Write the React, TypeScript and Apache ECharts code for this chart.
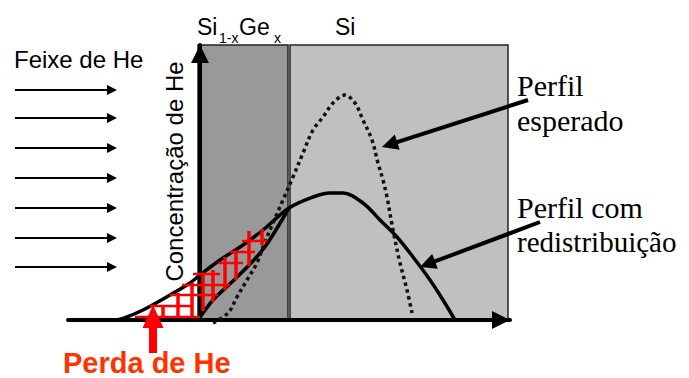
import { useEffect, useRef } from "react";
import * as echarts from "echarts";

// Axis ranges (arbitrary depth / concentration units)
const depthMin = -66;
const depthMax = 155;
const concMin = 0;
const concMax = 110;

// Layers: Si1-xGex and Si
const layerFrom = [-1, 45];
const layerTo = [44, 154];
const layerTop = [110, 110];

// "Perfil com redistribuição" (solid)
const redistDepth = [-42, -38.5, -28.5, -15, -5, 0, 10, 21.5, 31.5, 44.5, 56.5, 65, 71.5, 81.5, 90, 98.5, 106.5, 115, 121.5, 127.5];
const redistConc = [0, 0.6, 4, 10, 14.8, 18, 24, 30, 36, 44.8, 49.2, 50.8, 50.8, 46.8, 40, 33.2, 25.2, 16, 8, 0];

// Lower solid edge inside the SiGe layer
const sigeDepth = [-1, 6.5, 16.5, 26.5, 33.5, 44.5];
const sigeConc = [0, 8, 15.6, 23.6, 30.4, 44.8];

// "Perfil esperado" (dotted)
const expectedDepth = [6.5, 14, 18.5, 23.5, 28.5, 31.5, 36.5, 41.5, 46.5, 51.5, 56.5, 61.5, 66.5, 72.5, 77.5, 81.5, 86, 89, 91.5, 93.5, 96.5, 100, 103.5, 106];
const expectedConc = [-1.2, 2.8, 9.2, 16, 22.8, 29.2, 38.8, 48, 57.2, 66.8, 76, 81.2, 86.8, 90, 86.8, 80, 72, 62.8, 56, 49.2, 36, 22.8, 12, 2.8];

// Red hatching of the lost He
const hatchVDepth = [-18.5, -11, -4, 1.5, 6.5, 12.5, 18, 24.5, 31];
const hatchVLow = [1.2, 1.2, 1.2, 3.6, 7.2, 12, 16, 21.6, 30];
const hatchVHigh = [5.6, 10.8, 14.8, 18.8, 20, 25.2, 27.6, 35.6, 36.4];
const hatchHConc = [1.2, 5.6, 10, 14, 18.4, 22.8, 27.2, 31.6];
const hatchHFrom = [-32.5, -25, -15, -9, -3.5, 9, 15, 21];
const hatchHTo = [0, -4, 9, 15, 10, 21.5, 27.5, 33.5];

// He beam arrows
const beamConc = [92, 80.8, 68.8, 56.8, 44.8, 32.8, 21.2];
const beamFrom = -92.5;
const beamTo = -41.5;

// Callout arrows [fromDepth, fromConc, toDepth, toConc]
const calloutArrows = [
  [164, 88, 91, 69.2],
  [170, 39.2, 110, 21.2],
];
const lossArrow = [[-23.5, -13.2, -23.5, 6]];

const zip = (a: number[], b: number[]) => a.map((v, i) => [v, b[i]]);

function arrowRenderer(color: string, lw: number, headLen: number, headW: number) {
  return (_params: any, api: any) => {
    const p1 = api.coord([api.value(0), api.value(1)]);
    const p2 = api.coord([api.value(2), api.value(3)]);
    const dx = p2[0] - p1[0];
    const dy = p2[1] - p1[1];
    const L = Math.hypot(dx, dy) || 1;
    const ux = dx / L;
    const uy = dy / L;
    const bx = p2[0] - ux * headLen;
    const by = p2[1] - uy * headLen;
    const hw = headW / 2;
    return {
      type: "group",
      children: [
        {
          type: "line",
          shape: { x1: p1[0], y1: p1[1], x2: bx + ux * 1, y2: by + uy * 1 },
          style: { stroke: color, lineWidth: lw, lineCap: "butt" },
        },
        {
          type: "polygon",
          shape: {
            points: [
              [p2[0], p2[1]],
              [bx - uy * hw, by + ux * hw],
              [bx + uy * hw, by - ux * hw],
            ],
          },
          style: { fill: color },
        },
      ],
    };
  };
}

const SANS = "Liberation Sans";
const SERIF = "Liberation Serif";

function txt(
  text: string,
  x: number,
  y: number,
  size: number,
  family: string,
  fill = "#000",
  extra: any = {}
) {
  const { align, weight, rotation } = extra;
  return {
    type: "text",
    x,
    y,
    z: 10,
    rotation: rotation || 0,
    style: {
      text,
      fontSize: size,
      fontFamily: family,
      fontWeight: weight || "normal",
      lineHeight: Math.round(size * 0.8),
      fill,
      align: align || "left",
      verticalAlign: "middle",
      textAlign: align || "left",
      textVerticalAlign: "middle",
    },
  };
}

export default function App() {
  const ref = useRef<HTMLDivElement>(null);

  useEffect(() => {
    if (!ref.current) return;
    const chart = echarts.init(ref.current, undefined, { renderer: "svg" });

    const layerData = layerFrom.map((f, i) => [f, layerTo[i], layerTop[i]]);
    const layerColors = ["#999999", "#c0c0c0"];

    const hatchData = [
      ...hatchVDepth.map((x, i) => [x, hatchVLow[i], x, hatchVHigh[i], 1]),
      ...hatchHConc.map((y, i) => [hatchHFrom[i], y, hatchHTo[i], y, 0]),
    ];

    const beamData = beamConc.map((y) => [beamFrom, y, beamTo, y]);

    const axisCommon = {
      type: "value",
      axisTick: { show: false },
      axisLabel: { show: false },
      splitLine: { show: false },
      z: 2,
    };

    chart.setOption({
      animation: false,
      backgroundColor: "#ffffff",
      grid: { left: 68, right: 179, top: 45, bottom: 58, containLabel: false },
      xAxis: {
        ...axisCommon,
        min: depthMin,
        max: depthMax,
        axisLine: {
          show: true,
          onZero: true,
          symbol: ["none", "triangle"],
          symbolSize: [18, 18],
          symbolOffset: [0, -9],
          lineStyle: { color: "#000", width: 4 },
        },
      },
      yAxis: {
        ...axisCommon,
        min: concMin,
        max: concMax,
        axisLine: {
          show: true,
          onZero: true,
          symbol: ["none", "triangle"],
          symbolSize: [18, 18],
          symbolOffset: [0, -9],
          lineStyle: { color: "#000", width: 4 },
        },
      },
      series: [
        {
          type: "custom",
          name: "layers",
          z: 1,
          silent: true,
          data: layerData,
          renderItem: (params: any, api: any) => {
            const p0 = api.coord([api.value(0), api.value(2)]);
            const p1 = api.coord([api.value(1), 0]);
            return {
              type: "rect",
              shape: { x: p0[0], y: p0[1], width: p1[0] - p0[0], height: p1[1] - p0[1] },
              style: { fill: layerColors[params.dataIndex], stroke: "#222", lineWidth: 1.5 },
            };
          },
        },
        {
          type: "line",
          name: "Perfil com redistribuição",
          z: 3,
          data: zip(redistDepth, redistConc),
          smooth: 0.35,
          showSymbol: false,
          clip: false,
          lineStyle: { color: "#000", width: 3.5 },
        },
        {
          type: "line",
          name: "SiGe edge",
          z: 3,
          data: zip(sigeDepth, sigeConc),
          smooth: 0.3,
          showSymbol: false,
          clip: false,
          lineStyle: { color: "#000", width: 3.5 },
        },
        {
          type: "line",
          name: "Perfil esperado",
          z: 3,
          data: zip(expectedDepth, expectedConc),
          smooth: 0.35,
          showSymbol: false,
          clip: false,
          lineStyle: { color: "#111", width: 3.5, type: [3.5, 3.5], cap: "butt" },
        },
        {
          type: "custom",
          name: "hatch",
          z: 4,
          silent: true,
          data: hatchData,
          renderItem: (_params: any, api: any) => {
            const p1 = api.coord([api.value(0), api.value(1)]);
            const p2 = api.coord([api.value(2), api.value(3)]);
            const vertical = api.value(4) === 1;
            return {
              type: "line",
              shape: { x1: p1[0], y1: p1[1], x2: p2[0], y2: p2[1] },
              style: { stroke: "#ff0000", lineWidth: vertical ? 3.5 : 2.5 },
            };
          },
        },
        {
          type: "custom",
          name: "beam",
          z: 5,
          silent: true,
          data: beamData,
          renderItem: arrowRenderer("#000", 1.8, 10, 10),
        },
        {
          type: "custom",
          name: "callouts",
          z: 5,
          silent: true,
          data: calloutArrows,
          renderItem: arrowRenderer("#000", 4, 16, 16),
        },
        {
          type: "custom",
          name: "loss",
          z: 6,
          silent: true,
          data: lossArrow,
          renderItem: arrowRenderer("#ff0000", 8, 23, 21),
        },
      ],
      graphic: [
        txt("Feixe de He", 14, 59.6, 24, SANS),
        txt("Si", 197, 27, 23, SANS),
        txt("1-x", 219, 38.2, 14, SANS),
        txt("Ge", 239, 27, 23, SANS),
        txt("x", 274, 38.2, 14, SANS),
        txt("Si", 335, 27, 23, SANS),
        txt("Concentração de He", 174.5, 171.5, 24, SANS, "#000", {
          align: "center",
          rotation: Math.PI / 2,
        }),
        txt("Perda de He", 63, 363, 29, SANS, "#ff3300", { weight: "bold" }),
        txt("Perfil", 517, 85, 30, SERIF),
        txt("esperado", 517, 120, 30, SERIF),
        txt("Perfil com", 517, 207, 30, SERIF),
        txt("redistribuição", 517, 242, 29, SERIF),
      ],
    });

    return () => chart.dispose();
  }, []);

  return (
    <div
      ref={ref}
      style={{ position: "fixed", left: 0, top: 0, width: 689, height: 378, background: "#fff" }}
    />
  );
}
